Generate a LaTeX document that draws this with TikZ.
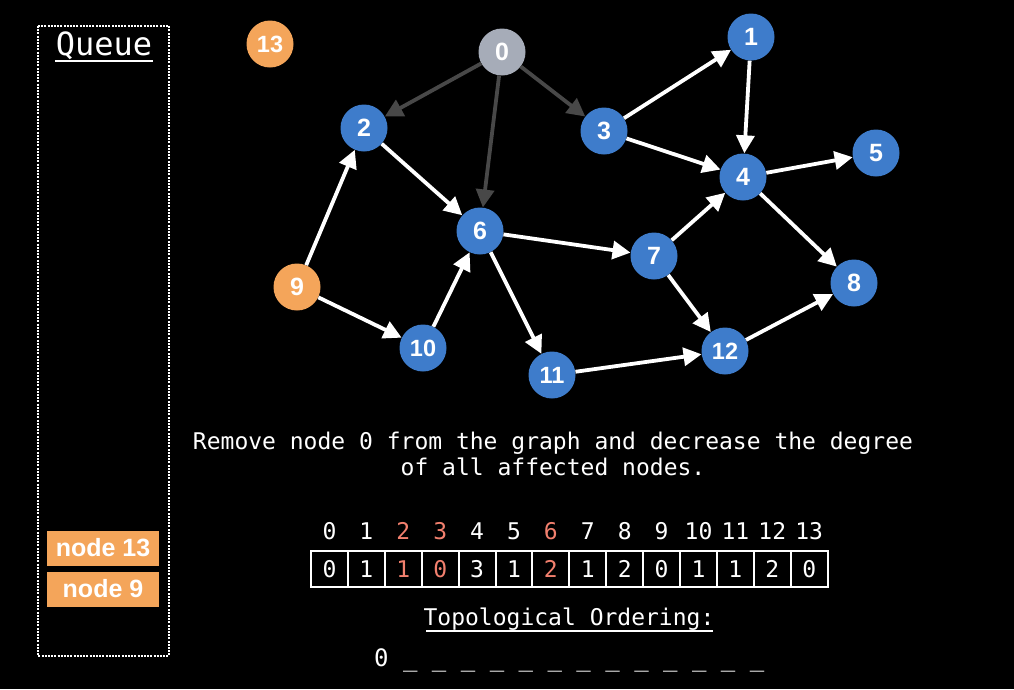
\documentclass[tikz,border=0pt]{standalone}
\usepackage{fontspec}
\setmainfont{Liberation Sans}
\newfontfamily\monof{DejaVu Sans Mono}
\usetikzlibrary{arrows.meta}
\definecolor{nblue}{HTML}{3E7CCB}
\definecolor{norange}{HTML}{F4A55A}
\definecolor{ngray}{HTML}{A6ACB8}
\definecolor{edark}{HTML}{484848}
\definecolor{hred}{HTML}{F2806E}
\tikzset{
  gnode/.style={circle,minimum size=47pt,inner sep=0pt,fill=nblue,text=white,font=\fontsize{25}{25}\selectfont\bfseries},
  twodig/.style={font=\fontsize{23.5}{23.5}\selectfont\bfseries},
  onode/.style={gnode,fill=norange},
  graynode/.style={gnode,fill=ngray},
  wedge/.style={draw=white,line width=3.8pt,-{Triangle[length=18pt,width=18pt]}},
  dedge/.style={draw=edark,line width=3.8pt,-{Triangle[length=18pt,width=18pt]}},
  mono/.style={text=white,font=\monof\fontsize{23}{26}\selectfont},
  cell/.style={draw=white,line width=2pt,minimum width=36.9pt,minimum height=36pt,inner sep=0pt,text=white,font=\monof\fontsize{23}{23}\selectfont},
  qitem/.style={fill=norange,minimum width=112pt,minimum height=35pt,inner sep=0pt,text=white,font=\fontsize{25}{25}\selectfont\bfseries}
}
\begin{document}
\begin{tikzpicture}[x=1pt,y=-1pt]
\fill[black] (0,0) rectangle (1014,689);
\useasboundingbox (0,0) rectangle (1014,689);
% queue
\draw[white,line width=2.5pt,dash pattern=on 2pt off 1.2pt] (38,26) rectangle (169,656);
\node[mono,font=\monof\fontsize{32}{32}\selectfont] (qt) at (104,46) {Queue};
\draw[white,line width=1.5pt] (55,61) -- (153,61);
\node[qitem] (q13) at (103,548) {node 13};
\node[qitem] (q9) at (103,589) {node 9};
% nodes
\node[graynode] (n0) at (502,52) {0};
\node[gnode] (n1) at (751,37) {1};
\node[gnode] (n2) at (364,128) {2};
\node[gnode] (n3) at (604,131) {3};
\node[gnode] (n4) at (743,177) {4};
\node[gnode] (n5) at (876,153) {5};
\node[gnode] (n6) at (480,231) {6};
\node[gnode] (n7) at (654,256) {7};
\node[gnode] (n8) at (854,283) {8};
\node[onode] (n9) at (297,287) {9};
\node[gnode,twodig] (n10) at (423,348) {10};
\node[gnode,twodig] (n11) at (552,375) {11};
\node[gnode,twodig] (n12) at (725,351) {12};
\node[onode,twodig] (n13) at (270,44) {13};
% edges
\draw[dedge] (n0) -- (n2);
\draw[dedge] (n0) -- (n6);
\draw[dedge] (n0) -- (n3);
\draw[wedge] (n3) -- (n1);
\draw[wedge] (n1) -- (n4);
\draw[wedge] (n3) -- (n4);
\draw[wedge] (n4) -- (n5);
\draw[wedge] (n4) -- (n8);
\draw[wedge] (n2) -- (n6);
\draw[wedge] (n9) -- (n2);
\draw[wedge] (n9) -- (n10);
\draw[wedge] (n10) -- (n6);
\draw[wedge] (n6) -- (n7);
\draw[wedge] (n6) -- (n11);
\draw[wedge] (n7) -- (n4);
\draw[wedge] (n7) -- (n12);
\draw[wedge] (n11) -- (n12);
\draw[wedge] (n12) -- (n8);
% text
\node[mono,align=center] (msg) at (553,454) {Remove node 0 from the graph and decrease the degree\\of all affected nodes.};
% array
\foreach \i/\v/\c in {0/0/white,1/1/white,2/1/hred,3/0/hred,4/3/white,5/1/white,6/2/hred,7/1/white,8/2/white,9/0/white,10/1/white,11/1/white,12/2/white,13/0/white} {
  \node[cell,text=\c] (c\i) at ({329.5+36.9*\i},569) {\v};
  \node[mono,text=\c,inner sep=0pt] (l\i) at ({329.5+36.9*\i},531) {\i};
}
\node[mono] (topo) at (569,619) {Topological Ordering:};
\draw[white,line width=1.2pt] (426,631) -- (713,631);
\node[mono,font=\monof\fontsize{24}{26}\selectfont,anchor=west,inner sep=0pt] (ord) at (374,660) {0 \_ \_ \_ \_ \_ \_ \_ \_ \_ \_ \_ \_ \_};
\end{tikzpicture}
\end{document}
